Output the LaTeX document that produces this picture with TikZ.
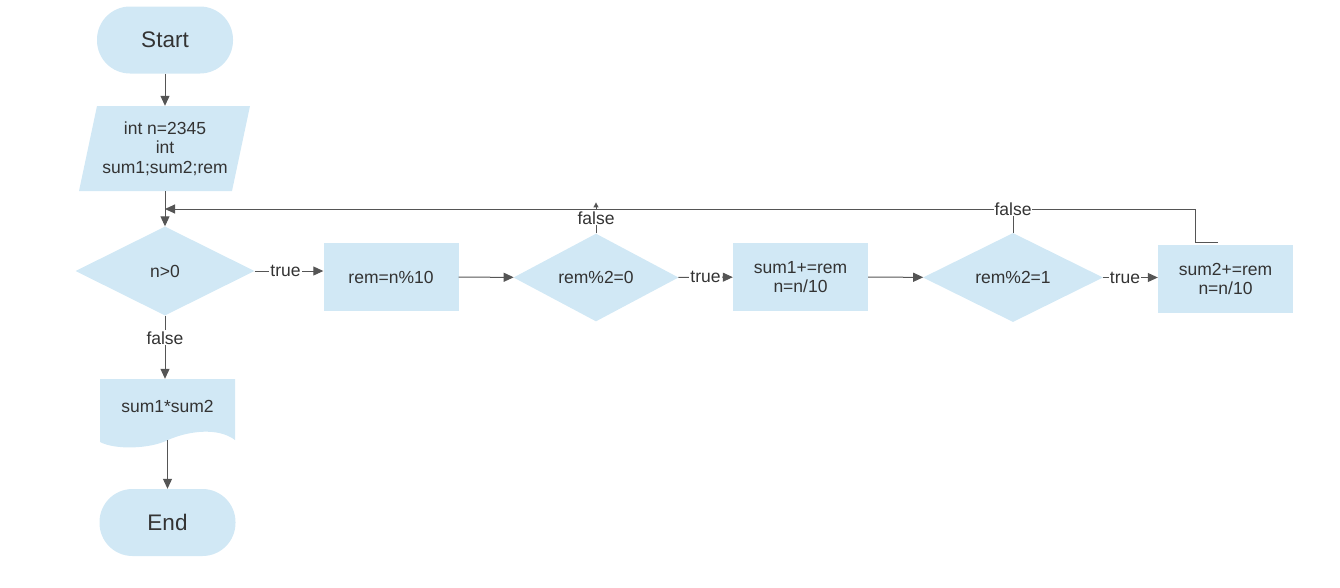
\documentclass[tikz,border=0pt]{standalone}
\usepackage{fontspec}
\setmainfont{Liberation Sans}
\usetikzlibrary{shapes.geometric,arrows.meta}
\definecolor{boxfill}{HTML}{D1E8F5}
\definecolor{ink}{HTML}{333333}
\definecolor{wirecol}{HTML}{555555}
\begin{document}
\begin{tikzpicture}[x=1pt,y=-1pt,
  txt/.style={text=ink,font=\fontsize{17.5}{19.5}\selectfont,align=center},
  term/.style={txt,rectangle,rounded corners=33pt,fill=boxfill,minimum width=136pt,minimum height=67pt,font=\fontsize{22.5}{26}\selectfont},
  proc/.style={txt,rectangle,fill=boxfill,minimum width=135pt,minimum height=68pt,inner sep=0pt},
  dec/.style={txt,diamond,fill=boxfill,inner sep=0pt},
  frame/.style={txt,rectangle,inner sep=0pt},
  lbl/.style={text=ink,font=\fontsize{17.5}{19}\selectfont,fill=white,inner sep=1pt},
  wire/.style={draw=wirecol,line width=1pt},
  arr/.style={wire,-{Triangle[length=10pt,width=9pt]}},
  tinyarr/.style={wire,-{Triangle[length=5pt,width=5pt]}}]
\useasboundingbox (0,0) rectangle (1340,587);

% terminals
\node[term] (start) at (165,40) {Start};
\node[term] (end) at (167.5,522.5) {End};

% input: parallelogram
\fill[boxfill] (97,106) -- (250,106) -- (232,191) -- (79,191) -- cycle;
\node[frame,minimum width=153pt,minimum height=85pt] (inp) at (165,148.5) {int n=2345\\int\\sum1;sum2;rem};

% loop test and body
\node[dec,minimum width=179pt,minimum height=89pt] (d1) at (165,271) {n>0};
\node[proc] (p1) at (391,277) {rem=n\%10};
\node[dec,minimum width=165pt,minimum height=83pt] (d2) at (596,277.5) {rem\%2=0};
\node[proc] (p2) at (800.5,277) {sum1+=rem\\n=n/10};
\node[dec,minimum width=180pt,minimum height=89pt] (d3) at (1013,277.5) {rem\%2=1};
\node[proc] (p3) at (1225.5,279) {sum2+=rem\\n=n/10};

% output: document shape
\fill[boxfill] (100,379) -- (235,379) -- (235,440)
  .. controls (218,427) and (188,431) .. (168,440)
  .. controls (150,449) and (115,450) .. (100,442) -- cycle;
\node[frame,minimum width=135pt,minimum height=54pt] (doc) at (167.5,406) {sum1*sum2};
\coordinate (docout) at (167.5,440);

% loop-back junction points
\coordinate (join) at (165,209);
\coordinate (fbstart) at (1218,242);

% connectors
\draw[arr] (start) -- (inp);
\draw[arr] (inp) -- (d1);
\draw[arr] (d1.east) -- node[lbl,pos=0.45] {true} (d1.east -| p1.west);
\draw[arr] (p1) -- (d2);
\draw[arr] (d2) -- node[lbl] {true} (p2);
\draw[arr] (p2) -- (d3);
\draw[arr] (d3.east) -- node[lbl,pos=0.4] {true} (d3.east -| p3.west);
\draw[arr] (d1.south) -- node[lbl,pos=0.35] {false} (d1.south |- doc.north);
\draw[arr] (docout) -- (end);
\draw[arr] (fbstart) -- ++(-23,0) |- (join);
\draw[tinyarr] (d2.north) -- node[lbl] {false} ++(0,-31);
\draw[wire] (d3.north) -- (d3.north |- join) node[lbl] {false};
\end{tikzpicture}
\end{document}
